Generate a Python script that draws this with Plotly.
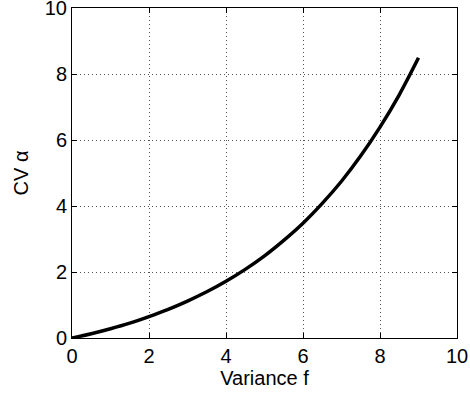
import plotly.graph_objects as go

variance_f = [0, 0.5, 1, 1.5, 2, 2.5, 3, 3.5, 4, 4.5, 5, 5.5, 6, 6.5, 7, 7.5, 8, 8.5, 9]
cv_alpha = [0, 0.13, 0.28, 0.45, 0.65, 0.87, 1.12, 1.40, 1.72, 2.08, 2.49, 2.96, 3.48, 4.08, 4.75, 5.52, 6.39, 7.37, 8.49]
tick_vals = [0, 2, 4, 6, 8, 10]

fig = go.Figure()
fig.add_trace(go.Scatter(x=variance_f, y=cv_alpha, mode="lines",
                         line=dict(color="black", width=3.5, shape="spline"),
                         showlegend=False, cliponaxis=False))

font = dict(family="Liberation Sans, Arial", size=20, color="black")
axis_common = dict(range=[0, 10], tickvals=tick_vals, ticks="inside", ticklen=5,
                   tickcolor="black", showline=True, linecolor="black", linewidth=1,
                   mirror="ticks", showgrid=True, gridcolor="#555555", griddash="1px,3px",
                   gridwidth=1, zeroline=False, automargin=False,
                   ticklabeloverflow="allow", tickfont=font)

fig.update_xaxes(**axis_common, title=dict(text="Variance f", standoff=4, font=font))
fig.update_yaxes(**axis_common, title=dict(text="CV α", standoff=10, font=font))

fig.update_layout(width=470, height=396, margin=dict(l=72, r=13, t=8, b=58),
                  plot_bgcolor="white", paper_bgcolor="white")

fig.write_html("out.html", config={"displayModeBar": False},
               post_script="document.body.style.margin='0';")
